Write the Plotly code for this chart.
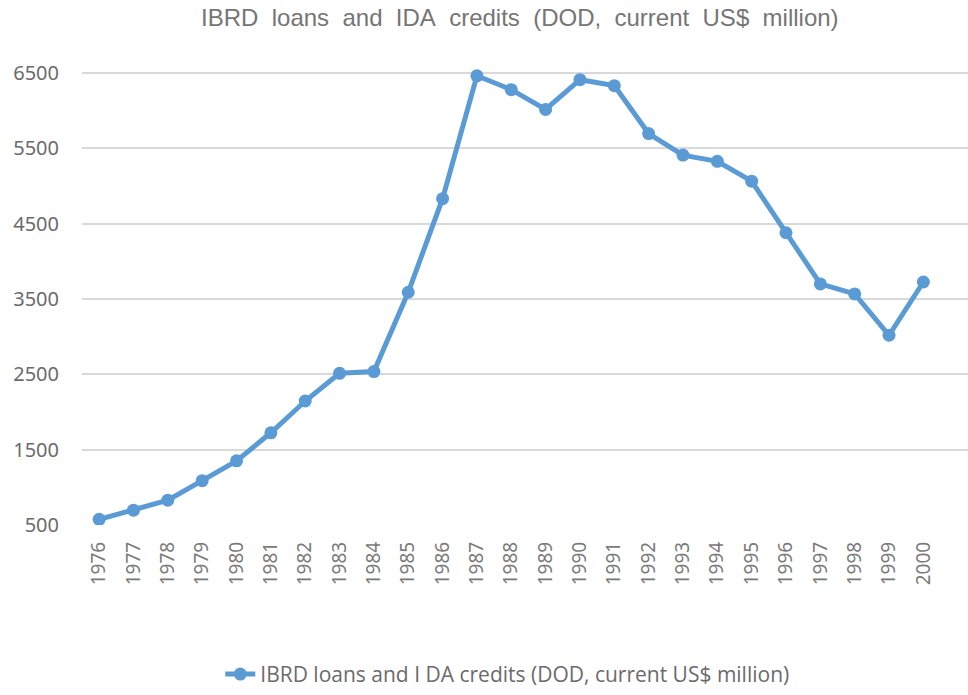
import plotly.graph_objects as go

years = [str(y) for y in range(1976, 2001)]
values = [575, 697, 829, 1089, 1352, 1724, 2146, 2514, 2537, 3590, 4832, 6464,
          6280, 6017, 6412, 6333, 5697, 5411, 5328, 5065, 4380, 3700, 3568, 3019, 3726]
y_ticks = [500, 1500, 2500, 3500, 4500, 5500, 6500]
series_name = "IBRD loans and IDA credits (DOD, current US$ million)"
legend_label = "IBRD loans and I DA credits (DOD, current US$ million)"
title_text = series_name.replace(" ", "\u00a0 ")

fig = go.Figure()
fig.add_trace(go.Scatter(
    x=years, y=values, mode="lines+markers", name=legend_label,
    line=dict(color="#5B9BD5", width=5),
    marker=dict(color="#5B9BD5", size=13),
))

fig.update_layout(
    width=968, height=695,
    margin=dict(l=82, r=0, t=58, b=166),
    paper_bgcolor="white", plot_bgcolor="white",
    title=dict(text=title_text, x=0.537, xanchor="center", y=0.974, yanchor="middle",
               font=dict(family="Liberation Sans Narrow, Liberation Sans", size=24, color="#757575")),
    showlegend=True,
    legend=dict(orientation="h", x=0.48, xanchor="center", y=-0.32, yanchor="middle",
                font=dict(family="Open Sans", size=21, color="#6b6b6b")),
    xaxis=dict(type="category", range=[-0.5, 25.3], tickangle=-90, showgrid=False,
               showline=False, ticks="", ticklabelstandoff=12,
               tickfont=dict(family="Noto Sans", size=19, color="#7a7a7a")),
    yaxis=dict(range=[500, 6700], tickvals=y_ticks, showgrid=True, gridcolor="#d9d9d9",
               gridwidth=1.5, zeroline=False, showline=False, ticks="", ticklabelstandoff=22,
               tickfont=dict(family="Noto Sans", size=20, color="#6b6b6b")),
)

fig.write_html("out.html")
